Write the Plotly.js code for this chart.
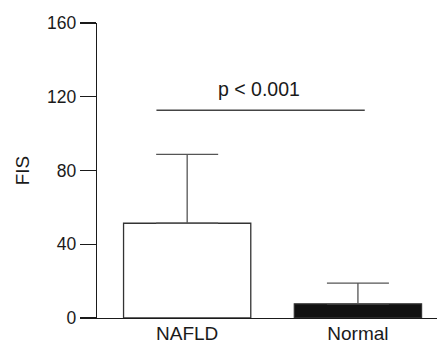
<!DOCTYPE html>
<html>
<head>
<meta charset="utf-8">
<script src="https://cdn.plot.ly/plotly-3.0.1.min.js"></script>
<style>html,body{margin:0;padding:0;background:#fff;}#chart{width:438px;height:345px;}</style>
</head>
<body>
<div id="chart"></div>
<script>
const categories = ["NAFLD", "Normal"];
const meanValues = [51.4, 7.7];
const sdValues = [37.3, 11.2];
const barFills = ["#ffffff", "#111111"];
const yTicks = [0, 40, 80, 120, 160];
const sigSpan = [-0.18, 1.04];
const sigLevel = 112.7;
const sigText = "p < 0.001";
const sigTextLevel = 124;

const fam = "Liberation Sans, Arial, sans-serif";
const tickFont = {family: fam, size: 17.5, color: "#1a1a1a"};
const catFont = {family: fam, size: 19, color: "#1a1a1a"};
const sigFont = {family: fam, size: 19.5, color: "#1a1a1a"};
const titleFont = {family: fam, size: 19, color: "#1a1a1a"};

const trace = {
  type: "bar",
  x: [0, 1],
  y: meanValues,
  width: 0.745,
  marker: {color: barFills, line: {color: "#333333", width: 1.3}},
  error_y: {type: "data", symmetric: false, array: sdValues, arrayminus: [0, 0],
            color: "#555555", thickness: 1.3, width: 31},
  hoverinfo: "skip"
};

const layout = {
  width: 438, height: 345,
  margin: {l: 97, r: 1, t: 23, b: 27},
  paper_bgcolor: "#fff", plot_bgcolor: "#fff",
  showlegend: false,
  font: tickFont,
  xaxis: {
    range: [-0.528, 1.463],
    tickvals: [0, 1], ticktext: categories,
    ticks: "", showgrid: false, zeroline: false,
    showline: true, linecolor: "#1a1a1a", linewidth: 1.2,
    tickfont: catFont, ticklabelstandoff: -2, fixedrange: true
  },
  yaxis: {
    range: [0, 160],
    tickvals: yTicks, ticktext: yTicks.map(String),
    ticks: "outside", ticklen: 16, tickwidth: 1.2, tickcolor: "#1a1a1a",
    showgrid: false, zeroline: false,
    showline: true, linecolor: "#1a1a1a", linewidth: 1.2,
    tickfont: tickFont,
    title: {text: "FIS", font: titleFont, standoff: 12},
    fixedrange: true
  },
  shapes: [{
    type: "line", xref: "x", yref: "y",
    x0: sigSpan[0], x1: sigSpan[1], y0: sigLevel, y1: sigLevel,
    line: {color: "#444444", width: 1.5}
  }],
  annotations: [{
    xref: "x", yref: "y",
    x: (sigSpan[0] + sigSpan[1]) / 2 - 0.01, y: sigTextLevel,
    text: sigText, showarrow: false, font: sigFont,
    xanchor: "center", yanchor: "middle"
  }]
};

Plotly.newPlot("chart", [trace], layout, {staticPlot: true, displayModeBar: false});
</script>
</body>
</html>
